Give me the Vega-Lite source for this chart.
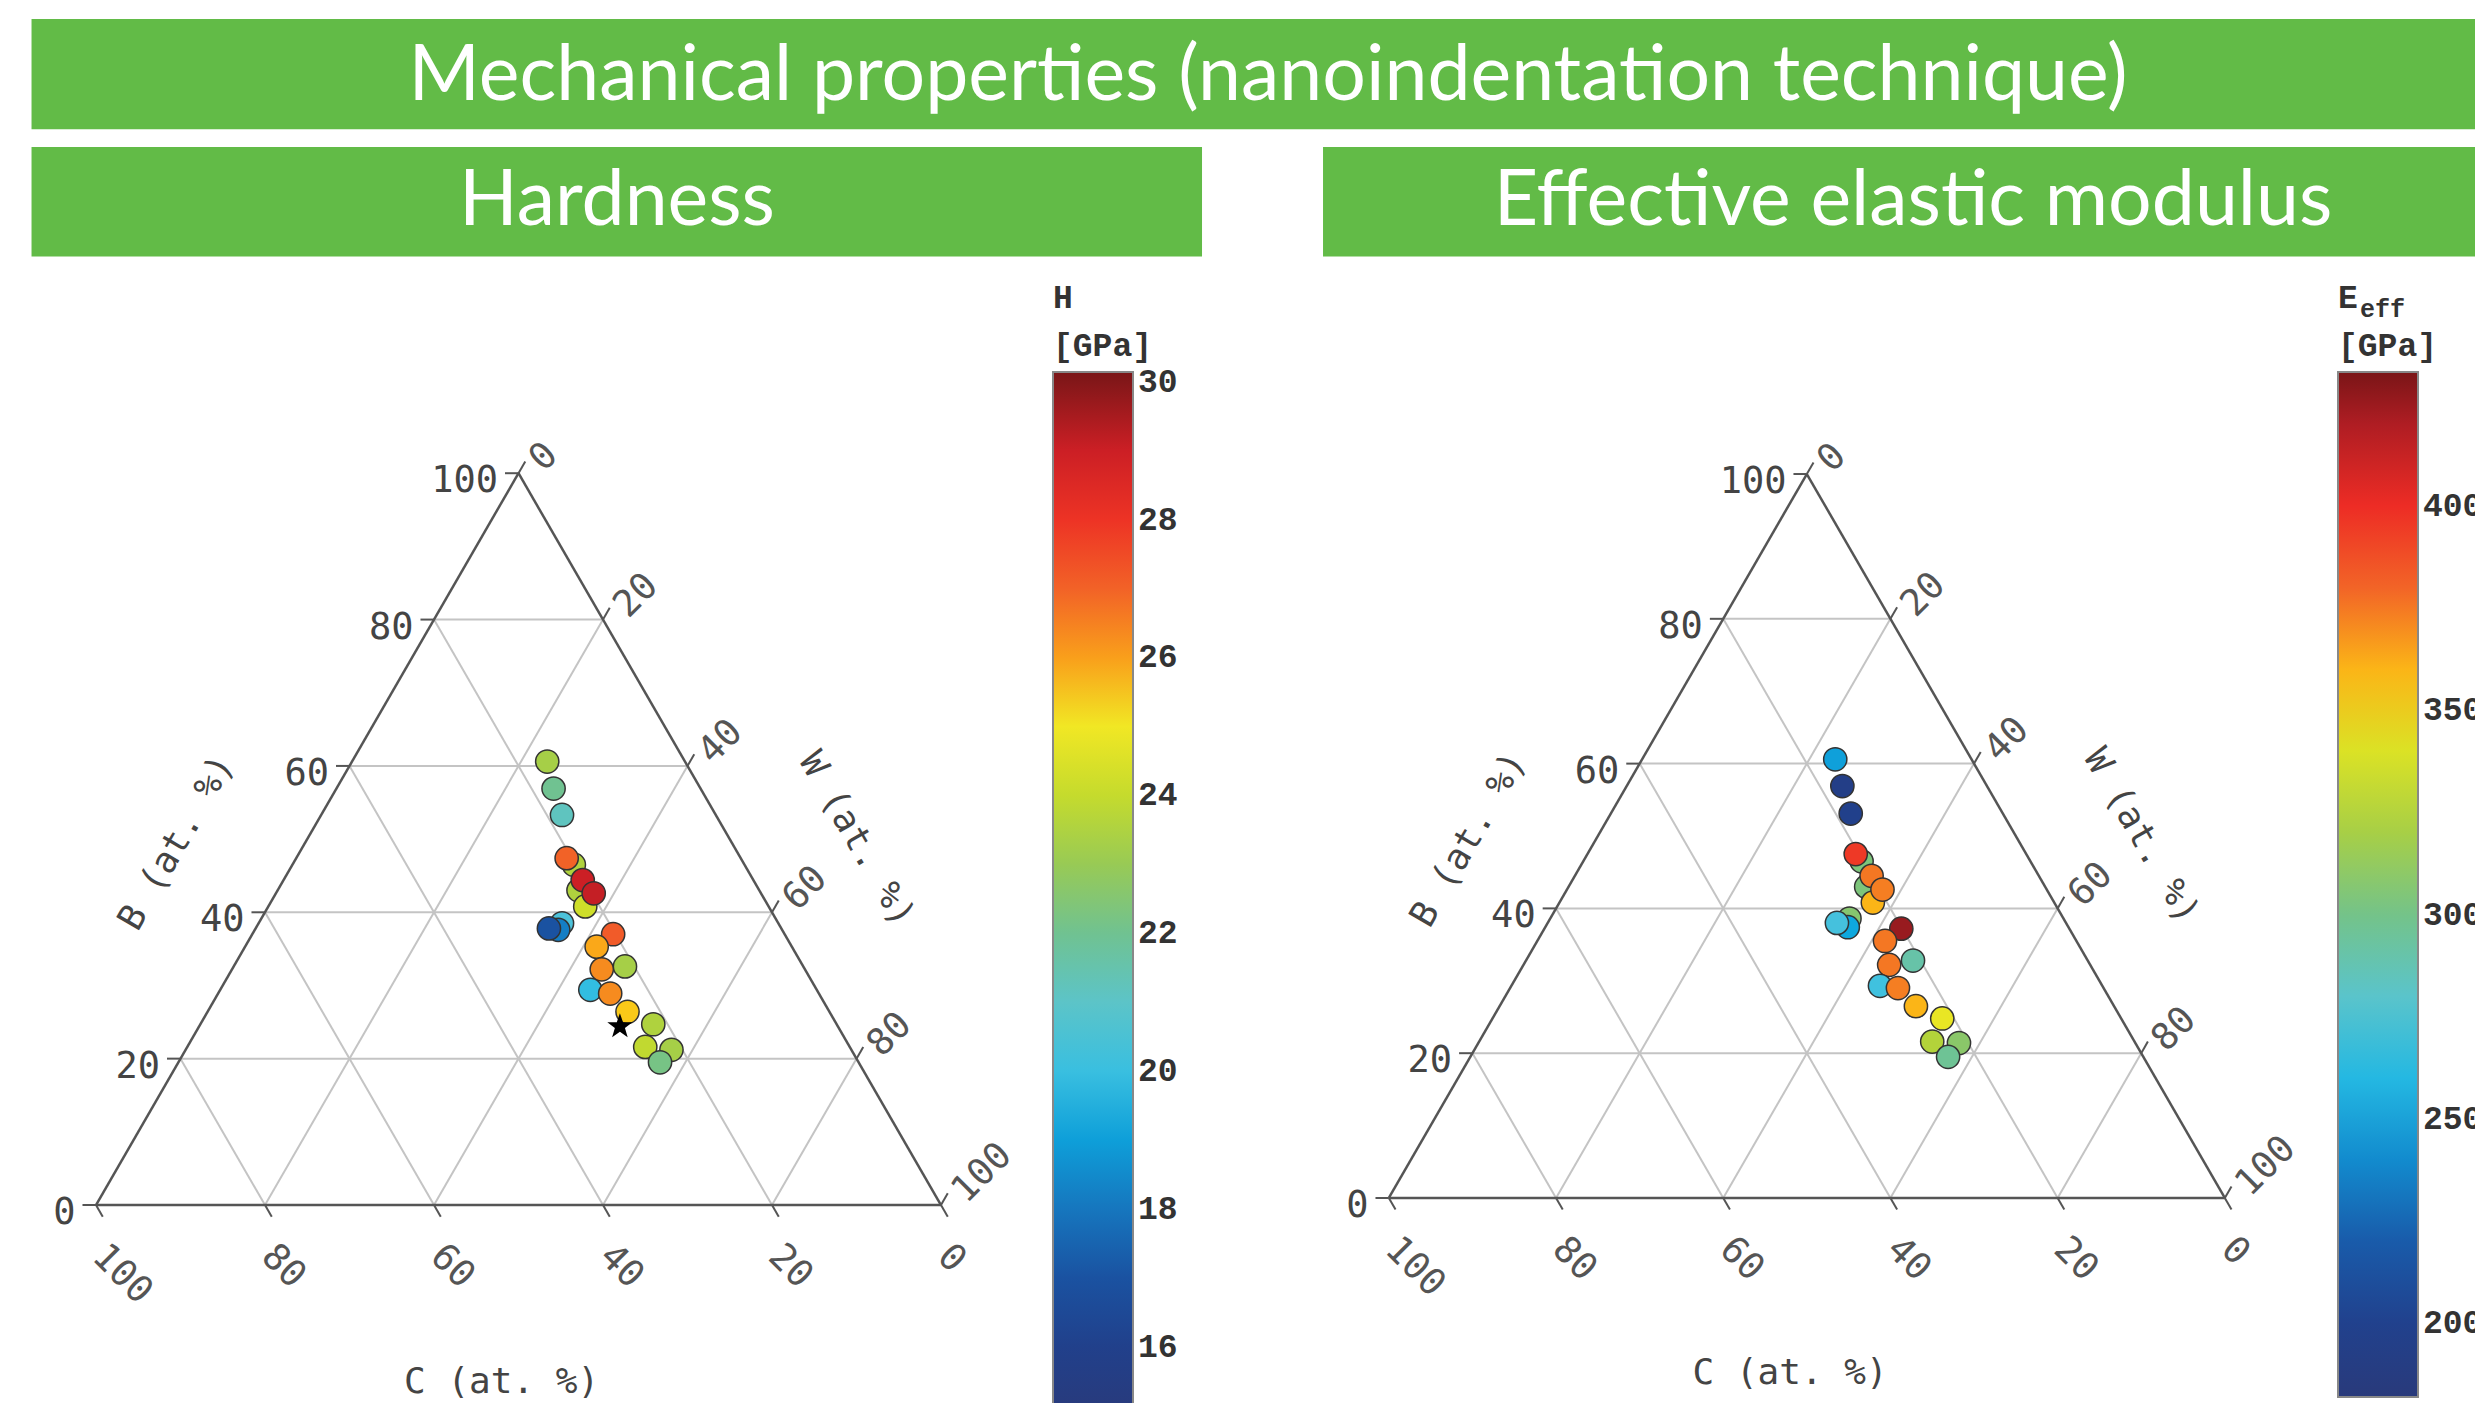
{
  "$schema": "https://vega.github.io/schema/vega-lite/v6.json",
  "width": 2475,
  "height": 1403,
  "autosize": {"type": "none"},
  "padding": 0,
  "background": "white",
  "config": {"view": {"stroke": null}},
  "datasets": {
    "points": [
      {"p": "H", "B": 46.5, "W": 33.3, "v": 23.5},
      {"p": "H", "B": 43.0, "W": 35.6, "v": 23.5},
      {"p": "H", "B": 40.8, "W": 37.5, "v": 24.2},
      {"p": "H", "B": 38.5, "W": 35.9, "v": 20.4},
      {"p": "H", "B": 37.6, "W": 35.9, "v": 18.2},
      {"p": "H", "B": 37.8, "W": 34.7, "v": 17.0},
      {"p": "H", "B": 60.6, "W": 23.1, "v": 23.3},
      {"p": "H", "B": 56.9, "W": 25.7, "v": 22.0},
      {"p": "H", "B": 53.3, "W": 28.5, "v": 21.2},
      {"p": "H", "B": 47.4, "W": 32.0, "v": 27.0},
      {"p": "H", "B": 44.4, "W": 35.4, "v": 29.0},
      {"p": "H", "B": 42.6, "W": 37.6, "v": 29.1},
      {"p": "H", "B": 37.0, "W": 42.7, "v": 27.1},
      {"p": "H", "B": 35.3, "W": 41.6, "v": 25.9},
      {"p": "H", "B": 32.6, "W": 46.3, "v": 23.3},
      {"p": "H", "B": 32.2, "W": 43.75, "v": 26.3},
      {"p": "H", "B": 29.4, "W": 43.8, "v": 19.9},
      {"p": "H", "B": 28.9, "W": 46.4, "v": 26.3},
      {"p": "H", "B": 26.4, "W": 49.7, "v": 25.5},
      {"p": "H", "B": 24.7, "W": 53.6, "v": 23.5},
      {"p": "H", "B": 21.6, "W": 54.2, "v": 23.9},
      {"p": "H", "B": 21.2, "W": 57.5, "v": 23.3},
      {"p": "H", "B": 19.5, "W": 57.0, "v": 22.2},
      {"p": "E", "B": 46.5, "W": 33.3, "v": 304},
      {"p": "E", "B": 43.0, "W": 35.6, "v": 304},
      {"p": "E", "B": 40.8, "W": 37.5, "v": 360},
      {"p": "E", "B": 38.6, "W": 35.8, "v": 307},
      {"p": "E", "B": 37.4, "W": 36.2, "v": 252},
      {"p": "E", "B": 38.0, "W": 34.6, "v": 269},
      {"p": "E", "B": 60.6, "W": 23.1, "v": 249},
      {"p": "E", "B": 56.9, "W": 25.8, "v": 195},
      {"p": "E", "B": 53.1, "W": 28.7, "v": 199},
      {"p": "E", "B": 47.5, "W": 32.1, "v": 395},
      {"p": "E", "B": 44.5, "W": 35.5, "v": 375},
      {"p": "E", "B": 42.6, "W": 37.75, "v": 373},
      {"p": "E", "B": 37.2, "W": 42.7, "v": 425},
      {"p": "E", "B": 35.5, "W": 41.6, "v": 375},
      {"p": "E", "B": 32.8, "W": 46.3, "v": 292},
      {"p": "E", "B": 32.2, "W": 43.75, "v": 375},
      {"p": "E", "B": 29.3, "W": 44.1, "v": 267},
      {"p": "E", "B": 29.0, "W": 46.4, "v": 373},
      {"p": "E", "B": 26.5, "W": 49.8, "v": 360},
      {"p": "E", "B": 24.8, "W": 53.8, "v": 345},
      {"p": "E", "B": 21.6, "W": 54.2, "v": 324},
      {"p": "E", "B": 21.4, "W": 57.5, "v": 309},
      {"p": "E", "B": 19.5, "W": 57.15, "v": 297}
    ],
    "frame": [
      {"k": "g", "B1": 20, "W1": 0, "B2": 20, "W2": 80, "p": ["H", "E"]},
      {"k": "g", "B1": 40, "W1": 0, "B2": 40, "W2": 60, "p": ["H", "E"]},
      {"k": "g", "B1": 60, "W1": 0, "B2": 60, "W2": 40, "p": ["H", "E"]},
      {"k": "g", "B1": 80, "W1": 0, "B2": 80, "W2": 20, "p": ["H", "E"]},
      {"k": "g", "B1": 0, "W1": 20, "B2": 80, "W2": 20, "p": ["H", "E"]},
      {"k": "g", "B1": 0, "W1": 40, "B2": 60, "W2": 40, "p": ["H", "E"]},
      {"k": "g", "B1": 0, "W1": 60, "B2": 40, "W2": 60, "p": ["H", "E"]},
      {"k": "g", "B1": 0, "W1": 80, "B2": 20, "W2": 80, "p": ["H", "E"]},
      {"k": "g", "B1": 0, "W1": 80, "B2": 80, "W2": 0, "p": ["H", "E"]},
      {"k": "g", "B1": 0, "W1": 60, "B2": 60, "W2": 0, "p": ["H", "E"]},
      {"k": "g", "B1": 0, "W1": 40, "B2": 40, "W2": 0, "p": ["H", "E"]},
      {"k": "g", "B1": 0, "W1": 20, "B2": 20, "W2": 0, "p": ["H", "E"]},
      {"k": "e", "B1": 0, "W1": 0, "B2": 100, "W2": 0, "p": ["H", "E"]},
      {"k": "e", "B1": 100, "W1": 0, "B2": 0, "W2": 100, "p": ["H", "E"]},
      {"k": "e", "B1": 0, "W1": 0, "B2": 0, "W2": 100, "p": ["H", "E"]}
    ],
    "ticks": [
      {"axis": "B", "v": 0, "p": ["H", "E"]}, {"axis": "B", "v": 20, "p": ["H", "E"]},
      {"axis": "B", "v": 40, "p": ["H", "E"]}, {"axis": "B", "v": 60, "p": ["H", "E"]},
      {"axis": "B", "v": 80, "p": ["H", "E"]}, {"axis": "B", "v": 100, "p": ["H", "E"]},
      {"axis": "W", "v": 0, "p": ["H", "E"]}, {"axis": "W", "v": 20, "p": ["H", "E"]},
      {"axis": "W", "v": 40, "p": ["H", "E"]}, {"axis": "W", "v": 60, "p": ["H", "E"]},
      {"axis": "W", "v": 80, "p": ["H", "E"]}, {"axis": "W", "v": 100, "p": ["H", "E"]},
      {"axis": "C", "v": 0, "p": ["H", "E"]}, {"axis": "C", "v": 20, "p": ["H", "E"]},
      {"axis": "C", "v": 40, "p": ["H", "E"]}, {"axis": "C", "v": 60, "p": ["H", "E"]},
      {"axis": "C", "v": 80, "p": ["H", "E"]}, {"axis": "C", "v": 100, "p": ["H", "E"]}
    ],
    "titles": [
      {"axis": "B", "name": "B (at. %)", "p": ["H", "E"]},
      {"axis": "W", "name": "W (at. %)", "p": ["H", "E"]},
      {"axis": "C", "name": "C (at. %)", "p": ["H", "E"]}
    ],
    "star": [{"p": "H", "B": 24.4, "W": 49.8}],
    "sub": [{"t": "eff"}]
  },
  "layer": [
    {
      "data": {"values": [{"t": "Mechanical properties (nanoindentation technique)"}]},
      "layer": [
        {
          "mark": {"type": "rect", "color": "#62bb47"},
          "encoding": {
            "x": {"datum": -7.63, "type": "quantitative", "scale": {"domain": [-11.3609, 281.5384], "nice": false, "zero": false}, "axis": null},
            "x2": {"datum": 290},
            "y": {"datum": 127.3, "type": "quantitative", "scale": {"domain": [-23.432, 142.604], "nice": false, "zero": false}, "axis": null},
            "y2": {"datum": 140.36}
          }
        },
        {
          "mark": {"type": "text", "color": "white", "font": "Lato", "fontSize": 77, "align": "center", "baseline": "alphabetic"},
          "encoding": {
            "x": {"datum": 138.7, "type": "quantitative", "scale": {"domain": [-11.3609, 281.5384], "nice": false, "zero": false}, "axis": null},
            "y": {"datum": 130.77, "type": "quantitative", "scale": {"domain": [-23.432, 142.604], "nice": false, "zero": false}, "axis": null},
            "text": {"field": "t"}
          }
        }
      ]
    },
    {
      "data": {"values": [{"t": "Hardness"}]},
      "layer": [
        {
          "mark": {"type": "rect", "color": "#62bb47"},
          "encoding": {
            "x": {"datum": -7.63, "type": "quantitative", "scale": {"domain": [-11.3609, 281.5384], "nice": false, "zero": false}, "axis": null},
            "x2": {"datum": 130.89},
            "y": {"datum": 112.25, "type": "quantitative", "scale": {"domain": [-23.432, 142.604], "nice": false, "zero": false}, "axis": null},
            "y2": {"datum": 125.21}
          }
        },
        {
          "mark": {"type": "text", "color": "white", "font": "Lato", "fontSize": 77, "align": "center", "baseline": "alphabetic"},
          "encoding": {
            "x": {"datum": 61.66, "type": "quantitative", "scale": {"domain": [-11.3609, 281.5384], "nice": false, "zero": false}, "axis": null},
            "y": {"datum": 115.98, "type": "quantitative", "scale": {"domain": [-23.432, 142.604], "nice": false, "zero": false}, "axis": null},
            "text": {"field": "t"}
          }
        }
      ]
    },
    {
      "data": {"values": [{"t": "Effective elastic modulus"}]},
      "layer": [
        {
          "mark": {"type": "rect", "color": "#62bb47"},
          "encoding": {
            "x": {"datum": 145.21, "type": "quantitative", "scale": {"domain": [-11.3609, 281.5384], "nice": false, "zero": false}, "axis": null},
            "x2": {"datum": 290},
            "y": {"datum": 112.25, "type": "quantitative", "scale": {"domain": [-23.432, 142.604], "nice": false, "zero": false}, "axis": null},
            "y2": {"datum": 125.21}
          }
        },
        {
          "mark": {"type": "text", "color": "white", "font": "Lato", "fontSize": 77, "align": "center", "baseline": "alphabetic"},
          "encoding": {
            "x": {"datum": 215.03, "type": "quantitative", "scale": {"domain": [-11.3609, 281.5384], "nice": false, "zero": false}, "axis": null},
            "y": {"datum": 115.98, "type": "quantitative", "scale": {"domain": [-23.432, 142.604], "nice": false, "zero": false}, "axis": null},
            "text": {"field": "t"}
          }
        }
      ]
    },
    {
      "data": {"name": "frame"},
      "transform": [
        {"flatten": ["p"]},
        {"filter": "datum.k == 'g'"},
        {"calculate": "(datum.p=='E'?153:0)+(datum.p=='E'?0.9893:1)*(datum.W1+datum.B1/2)", "as": "x1"},
        {"calculate": "(datum.p=='E'?0.83:0)+(datum.p=='E'?0.9893:1)*0.8660254*datum.B1", "as": "y1"},
        {"calculate": "(datum.p=='E'?153:0)+(datum.p=='E'?0.9893:1)*(datum.W2+datum.B2/2)", "as": "x2"},
        {"calculate": "(datum.p=='E'?0.83:0)+(datum.p=='E'?0.9893:1)*0.8660254*datum.B2", "as": "y2"}
      ],
      "mark": {"type": "rule", "color": "#c4c4c4", "strokeWidth": 2},
      "encoding": {
        "x": {"field": "x1", "type": "quantitative", "scale": {"domain": [-11.3609, 281.5384], "nice": false, "zero": false}, "axis": null},
        "y": {"field": "y1", "type": "quantitative", "scale": {"domain": [-23.432, 142.604], "nice": false, "zero": false}, "axis": null},
        "x2": {"field": "x2"},
        "y2": {"field": "y2"}
      }
    },
    {
      "data": {"name": "frame"},
      "transform": [
        {"flatten": ["p"]},
        {"filter": "datum.k == 'e'"},
        {"calculate": "(datum.p=='E'?153:0)+(datum.p=='E'?0.9893:1)*(datum.W1+datum.B1/2)", "as": "x1"},
        {"calculate": "(datum.p=='E'?0.83:0)+(datum.p=='E'?0.9893:1)*0.8660254*datum.B1", "as": "y1"},
        {"calculate": "(datum.p=='E'?153:0)+(datum.p=='E'?0.9893:1)*(datum.W2+datum.B2/2)", "as": "x2"},
        {"calculate": "(datum.p=='E'?0.83:0)+(datum.p=='E'?0.9893:1)*0.8660254*datum.B2", "as": "y2"}
      ],
      "mark": {"type": "rule", "color": "#555555", "strokeWidth": 2.5},
      "encoding": {
        "x": {"field": "x1", "type": "quantitative", "scale": {"domain": [-11.3609, 281.5384], "nice": false, "zero": false}, "axis": null},
        "y": {"field": "y1", "type": "quantitative", "scale": {"domain": [-23.432, 142.604], "nice": false, "zero": false}, "axis": null},
        "x2": {"field": "x2"},
        "y2": {"field": "y2"}
      }
    },
    {
      "data": {"name": "ticks"},
      "transform": [
        {"flatten": ["p"]},
        {"calculate": "datum.axis=='B' ? datum.v : datum.axis=='W' ? 100-datum.v : 0", "as": "B1"},
        {"calculate": "datum.axis=='B' ? 0 : datum.axis=='W' ? datum.v : 100-datum.v", "as": "W1"},
        {"calculate": "datum.axis=='B' ? datum.v : datum.axis=='W' ? 101.6-datum.v : -1.6", "as": "B2"},
        {"calculate": "datum.axis=='B' ? -1.6 : datum.axis=='W' ? datum.v : 101.6-datum.v", "as": "W2"},
        {"calculate": "(datum.p=='E'?153:0)+(datum.p=='E'?0.9893:1)*(datum.W1+datum.B1/2)", "as": "x1"},
        {"calculate": "(datum.p=='E'?0.83:0)+(datum.p=='E'?0.9893:1)*0.8660254*datum.B1", "as": "y1"},
        {"calculate": "(datum.p=='E'?153:0)+(datum.p=='E'?0.9893:1)*(datum.W2+datum.B2/2)", "as": "x2"},
        {"calculate": "(datum.p=='E'?0.83:0)+(datum.p=='E'?0.9893:1)*0.8660254*datum.B2", "as": "y2"}
      ],
      "mark": {"type": "rule", "color": "#555555", "strokeWidth": 2},
      "encoding": {
        "x": {"field": "x1", "type": "quantitative", "scale": {"domain": [-11.3609, 281.5384], "nice": false, "zero": false}, "axis": null},
        "y": {"field": "y1", "type": "quantitative", "scale": {"domain": [-23.432, 142.604], "nice": false, "zero": false}, "axis": null},
        "x2": {"field": "x2"},
        "y2": {"field": "y2"}
      }
    },
    {
      "data": {"name": "ticks"},
      "transform": [
        {"flatten": ["p"]},
        {"filter": "datum.axis == 'B'"},
        {"calculate": "(datum.p=='E'?153:0)+(datum.p=='E'?0.9893:1)*(-1.6+datum.v/2)", "as": "tx"},
        {"calculate": "(datum.p=='E'?0.83:0)+(datum.p=='E'?0.9893:1)*0.8660254*datum.v", "as": "ty"}
      ],
      "mark": {"type": "text", "font": "DejaVu Sans Mono", "fontSize": 37, "color": "#444444", "align": "right", "baseline": "middle", "dx": -7, "dy": 8},
      "encoding": {
        "x": {"field": "tx", "type": "quantitative", "scale": {"domain": [-11.3609, 281.5384], "nice": false, "zero": false}, "axis": null},
        "y": {"field": "ty", "type": "quantitative", "scale": {"domain": [-23.432, 142.604], "nice": false, "zero": false}, "axis": null},
        "text": {"field": "v"}
      }
    },
    {
      "data": {"name": "ticks"},
      "transform": [
        {"flatten": ["p"]},
        {"filter": "datum.axis == 'W'"},
        {"calculate": "(datum.p=='E'?153:0)+(datum.p=='E'?0.9893:1)*(datum.v+(101.6-datum.v)/2)", "as": "tx"},
        {"calculate": "(datum.p=='E'?0.83:0)+(datum.p=='E'?0.9893:1)*0.8660254*(101.6-datum.v)", "as": "ty"}
      ],
      "mark": {"type": "text", "font": "DejaVu Sans Mono", "fontSize": 37, "color": "#555555", "align": "left", "baseline": "middle", "angle": -45, "dx": 5, "dy": 10},
      "encoding": {
        "x": {"field": "tx", "type": "quantitative", "scale": {"domain": [-11.3609, 281.5384], "nice": false, "zero": false}, "axis": null},
        "y": {"field": "ty", "type": "quantitative", "scale": {"domain": [-23.432, 142.604], "nice": false, "zero": false}, "axis": null},
        "text": {"field": "v"}
      }
    },
    {
      "data": {"name": "ticks"},
      "transform": [
        {"flatten": ["p"]},
        {"filter": "datum.axis == 'C'"},
        {"calculate": "(datum.p=='E'?153:0)+(datum.p=='E'?0.9893:1)*(101.6-datum.v-0.8)", "as": "tx"},
        {"calculate": "(datum.p=='E'?0.83:0)+(datum.p=='E'?0.9893:1)*0.8660254*(-1.6)", "as": "ty"}
      ],
      "mark": {"type": "text", "font": "DejaVu Sans Mono", "fontSize": 37, "color": "#555555", "align": "left", "baseline": "middle", "angle": 45, "dx": 21, "dy": 27},
      "encoding": {
        "x": {"field": "tx", "type": "quantitative", "scale": {"domain": [-11.3609, 281.5384], "nice": false, "zero": false}, "axis": null},
        "y": {"field": "ty", "type": "quantitative", "scale": {"domain": [-23.432, 142.604], "nice": false, "zero": false}, "axis": null},
        "text": {"field": "v"}
      }
    },
    {
      "data": {"name": "titles"},
      "transform": [
        {"flatten": ["p"]},
        {"filter": "datum.axis == 'B'"},
        {"calculate": "(datum.p=='E'?153:0)+(datum.p=='E'?0.9893:1)*(-15.2+49.5/2)", "as": "tx"},
        {"calculate": "(datum.p=='E'?0.83:0)+(datum.p=='E'?0.9893:1)*0.8660254*49.5", "as": "ty"}
      ],
      "mark": {"type": "text", "font": "DejaVu Sans Mono", "fontSize": 36, "color": "#444444", "align": "center", "baseline": "middle", "angle": -60},
      "encoding": {
        "x": {"field": "tx", "type": "quantitative", "scale": {"domain": [-11.3609, 281.5384], "nice": false, "zero": false}, "axis": null},
        "y": {"field": "ty", "type": "quantitative", "scale": {"domain": [-23.432, 142.604], "nice": false, "zero": false}, "axis": null},
        "text": {"field": "name"}
      }
    },
    {
      "data": {"name": "titles"},
      "transform": [
        {"flatten": ["p"]},
        {"filter": "datum.axis == 'W'"},
        {"calculate": "(datum.p=='E'?153:0)+(datum.p=='E'?0.9893:1)*(65+50/2)", "as": "tx"},
        {"calculate": "(datum.p=='E'?0.83:0)+(datum.p=='E'?0.9893:1)*0.8660254*50", "as": "ty"}
      ],
      "mark": {"type": "text", "font": "DejaVu Sans Mono", "fontSize": 36, "color": "#444444", "align": "center", "baseline": "middle", "angle": 60},
      "encoding": {
        "x": {"field": "tx", "type": "quantitative", "scale": {"domain": [-11.3609, 281.5384], "nice": false, "zero": false}, "axis": null},
        "y": {"field": "ty", "type": "quantitative", "scale": {"domain": [-23.432, 142.604], "nice": false, "zero": false}, "axis": null},
        "text": {"field": "name"}
      }
    },
    {
      "data": {"name": "titles"},
      "transform": [
        {"flatten": ["p"]},
        {"filter": "datum.axis == 'C'"},
        {"calculate": "(datum.p=='E'?153:0)+(datum.p=='E'?0.9893:1)*(60.1-24.2/2)", "as": "tx"},
        {"calculate": "(datum.p=='E'?0.83:0)+(datum.p=='E'?0.9893:1)*0.8660254*(-24.2)", "as": "ty"}
      ],
      "mark": {"type": "text", "font": "DejaVu Sans Mono", "fontSize": 36, "color": "#444444", "align": "center", "baseline": "middle"},
      "encoding": {
        "x": {"field": "tx", "type": "quantitative", "scale": {"domain": [-11.3609, 281.5384], "nice": false, "zero": false}, "axis": null},
        "y": {"field": "ty", "type": "quantitative", "scale": {"domain": [-23.432, 142.604], "nice": false, "zero": false}, "axis": null},
        "text": {"field": "name"}
      }
    },
    {
      "data": {"name": "points"},
      "transform": [
        {"filter": "datum.p == 'H'"},
        {"calculate": "datum.W + datum.B/2", "as": "tx"},
        {"calculate": "0.8660254*datum.B", "as": "ty"}
      ],
      "mark": {"type": "circle", "size": 540, "opacity": 1, "stroke": "#333333", "strokeWidth": 1.5},
      "encoding": {
        "x": {"field": "tx", "type": "quantitative", "scale": {"domain": [-11.3609, 281.5384], "nice": false, "zero": false}, "axis": null},
        "y": {"field": "ty", "type": "quantitative", "scale": {"domain": [-23.432, 142.604], "nice": false, "zero": false}, "axis": null},
        "fill": {
          "field": "v", "type": "quantitative", "title": ["H", "[GPa]"],
          "scale": {"domain": [15.0, 30.14], "range": ["#293a7b", "#263c83", "#21408b", "#1d4896", "#1a52a1", "#1863b1", "#1677bf", "#128ccf", "#0fa0da", "#14b4e3", "#3cc0e0", "#52c3d8", "#5ec4c6", "#67c3ad", "#73c28c", "#87c66e", "#9ccb50", "#b3d33a", "#c9dc2a", "#dde325", "#f5e824", "#fbc218", "#f7961e", "#f47a23", "#f15a29", "#ef4327", "#ed2d25", "#e92125", "#c21f25", "#9a1b20", "#7a1517"]},
          "legend": {
            "orient": "none", "legendX": 1053, "legendY": 282, "direction": "vertical",
            "gradientLength": 1044, "gradientThickness": 80,
            "gradientStrokeColor": "#888888", "gradientStrokeWidth": 2,
            "values": [16, 18, 20, 22, 24, 26, 28, 30],
            "labelFont": "Liberation Mono", "labelFontSize": 33, "labelFontWeight": "bold", "labelColor": "#333333", "labelOffset": 5,
            "titleFont": "Liberation Mono", "titleFontSize": 33, "titleFontWeight": "bold", "titleColor": "#333333", "titleLineHeight": 48, "titlePadding": 9
          }
        }
      }
    },
    {
      "data": {"name": "points"},
      "transform": [
        {"filter": "datum.p == 'E'"},
        {"calculate": "153 + 0.9893*(datum.W + datum.B/2)", "as": "tx"},
        {"calculate": "0.83 + 0.9893*0.8660254*datum.B", "as": "ty"}
      ],
      "mark": {"type": "circle", "size": 540, "opacity": 1, "stroke": "#333333", "strokeWidth": 1.5},
      "encoding": {
        "x": {"field": "tx", "type": "quantitative", "scale": {"domain": [-11.3609, 281.5384], "nice": false, "zero": false}, "axis": null},
        "y": {"field": "ty", "type": "quantitative", "scale": {"domain": [-23.432, 142.604], "nice": false, "zero": false}, "axis": null},
        "color": {
          "field": "v", "type": "quantitative", "title": ["E", "[GPa]"],
          "scale": {"domain": [182, 432.75], "range": ["#293a7b", "#263c83", "#21408b", "#1d4896", "#1a52a1", "#1863b1", "#1677bf", "#128ccf", "#0fa0da", "#14b4e3", "#3cc0e0", "#52c3d8", "#5ec4c6", "#67c3ad", "#73c28c", "#87c66e", "#9ccb50", "#b3d33a", "#c9dc2a", "#dde325", "#f5e824", "#fbc218", "#f7961e", "#f47a23", "#f15a29", "#ef4327", "#ed2d25", "#e92125", "#c21f25", "#9a1b20", "#7a1517"]},
          "legend": {
            "orient": "none", "legendX": 2338, "legendY": 282, "direction": "vertical",
            "gradientLength": 1025, "gradientThickness": 80,
            "gradientStrokeColor": "#888888", "gradientStrokeWidth": 2,
            "values": [200, 250, 300, 350, 400],
            "labelFont": "Liberation Mono", "labelFontSize": 33, "labelFontWeight": "bold", "labelColor": "#333333", "labelOffset": 5,
            "titleFont": "Liberation Mono", "titleFontSize": 33, "titleFontWeight": "bold", "titleColor": "#333333", "titleLineHeight": 48, "titlePadding": 9
          }
        }
      }
    },
    {
      "data": {"name": "star"},
      "transform": [
        {"calculate": "datum.W + datum.B/2", "as": "tx"},
        {"calculate": "0.8660254*datum.B", "as": "ty"}
      ],
      "mark": {"type": "point", "shape": "M0,-1L0.235,-0.324L0.951,-0.309L0.38,0.124L0.588,0.809L0,0.4L-0.588,0.809L-0.38,0.124L-0.951,-0.309L-0.235,-0.324Z", "filled": true, "size": 700, "color": "black", "opacity": 1},
      "encoding": {
        "x": {"field": "tx", "type": "quantitative", "scale": {"domain": [-11.3609, 281.5384], "nice": false, "zero": false}, "axis": null},
        "y": {"field": "ty", "type": "quantitative", "scale": {"domain": [-23.432, 142.604], "nice": false, "zero": false}, "axis": null}
      }
    },
    {
      "data": {"name": "sub"},
      "mark": {"type": "text", "font": "Liberation Mono", "fontSize": 25, "fontWeight": "bold", "color": "#333333", "align": "left", "baseline": "alphabetic"},
      "encoding": {
        "x": {"datum": 267.93, "type": "quantitative", "scale": {"domain": [-11.3609, 281.5384], "nice": false, "zero": false}, "axis": null},
        "y": {"datum": 105.09, "type": "quantitative", "scale": {"domain": [-23.432, 142.604], "nice": false, "zero": false}, "axis": null},
        "text": {"field": "t"}
      }
    }
  ]
}
